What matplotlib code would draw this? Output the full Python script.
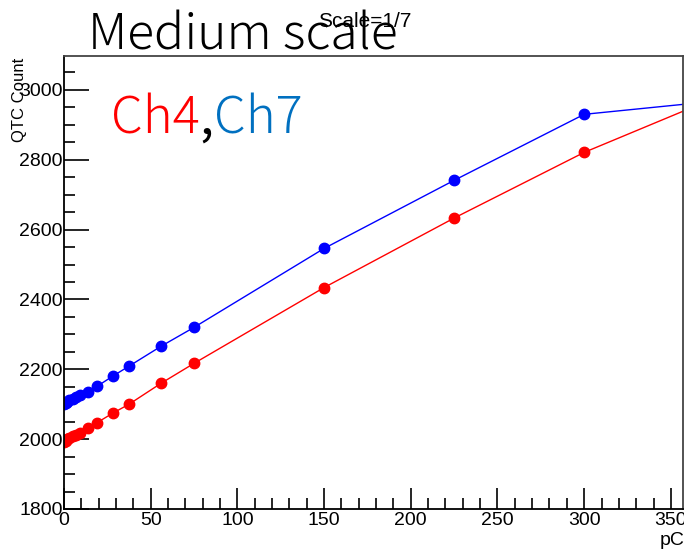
import numpy as np
import matplotlib.pyplot as plt
from matplotlib.ticker import MultipleLocator

# charge (pC) and QTC counts
charge = [0, 1, 2, 3, 5, 7, 9, 14, 19, 28, 37.5, 56, 75, 150, 225, 300, 450]
ch4_counts = [1991, 1995, 1999, 2003, 2008, 2013, 2018, 2031, 2047,
              2074, 2100, 2160, 2217, 2434, 2633, 2821, 3131]
ch7_counts = [2100, 2103, 2107, 2111, 2116, 2121, 2126, 2136, 2151,
              2180, 2209, 2266, 2320, 2546, 2741, 2930, 3005]

x_ticks = [0, 50, 100, 150, 200, 250, 300, 350]
y_ticks = [1800, 2000, 2200, 2400, 2600, 2800, 3000]

plt.rcParams['font.family'] = ['Liberation Sans', 'DejaVu Sans']
big_font = ['Noto Sans CJK JP', 'DejaVu Sans']

fig = plt.figure(figsize=(6.84, 5.52), dpi=100)
ax = fig.add_axes([64 / 684, 1 - 509 / 552, 619 / 684, 453 / 552])

ax.plot(charge, ch4_counts, color='red', lw=1, marker='o', ms=7.5, mec='red')
ax.plot(charge, ch7_counts, color='blue', lw=1, marker='o', ms=7.5, mec='blue')

ax.set_xlim(0, 357)
ax.set_ylim(1800, 3097)
ax.set_xticks(x_ticks)
ax.set_yticks(y_ticks)
ax.xaxis.set_minor_locator(MultipleLocator(10))
ax.yaxis.set_minor_locator(MultipleLocator(50))
ax.tick_params(which='major', direction='in', length=15, width=1.2,
               labelsize=14, top=False, right=False)
ax.tick_params(which='minor', direction='in', length=8, width=1.2,
               top=False, right=False)
ax.tick_params(axis='y', which='major', length=18, pad=1)
ax.tick_params(axis='x', which='major', pad=2)

for side in ['left', 'bottom']:
    ax.spines[side].set_linewidth(1.3)
for side in ['top', 'right']:
    ax.spines[side].set_color('#444444')
    ax.spines[side].set_linewidth(1.3)

fig.text(20 / 684, 1 - 58 / 552, 'QTC Count', rotation=90, fontsize=12,
         ha='center', va='top')
fig.text(672 / 684, 1 - 549 / 552, 'pC', fontsize=14, ha='center', va='bottom')

# title and labels
fig.text(88 / 684, 1 - 50 / 552, 'Medium scale', fontsize=36,
         family=big_font, weight='light', ha='left', va='baseline')
fig.text(318 / 684, 1 - 27 / 552, 'Scale=1/7', fontsize=15,
         ha='left', va='baseline')

t1 = fig.text(111 / 684, 1 - 134 / 552, 'Ch4', color='red', fontsize=36.5,
              family=big_font, weight='light', ha='left', va='baseline')
t2 = ax.annotate(',', xy=(1, 0), xycoords=t1, color='black', fontsize=36.5,
                 va='bottom', family=big_font, weight='normal')
t3 = ax.annotate('Ch7', xy=(1, 0), xycoords=t2, color='#0070c0', fontsize=36.5,
                 va='bottom', family=big_font, weight='light')

fig.savefig('out.png', dpi=100)
